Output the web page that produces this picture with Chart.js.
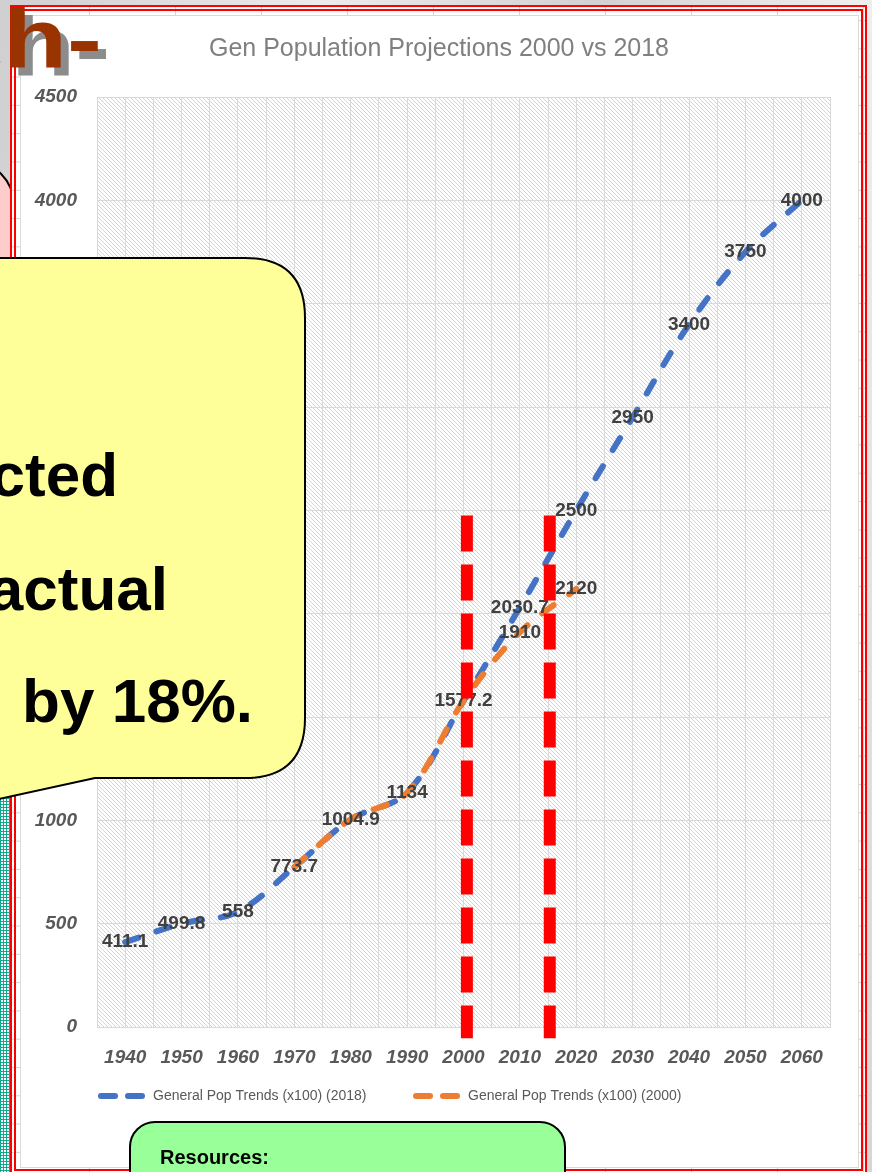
<!DOCTYPE html>
<html>
<head>
<meta charset="utf-8">
<script src="https://cdn.jsdelivr.net/npm/chart.js@4.4.1/dist/chart.umd.min.js"></script>
<style>
  html, body { margin: 0; padding: 0; }
  body {
    width: 872px; height: 1172px; position: relative; overflow: hidden;
    background: linear-gradient(100deg, #cfcfcf 0%, #ececec 30%, #d2d2d2 55%, #efefef 80%, #d6d6d6 100%);
    font-family: "Liberation Sans", Arial, sans-serif;
  }
  #pink {
    position: absolute; left: -50px; top: 162px; width: 60px; height: 160px;
    background: #ffcccc; border: 2px solid #000; border-top-right-radius: 40px;
  }
  #teal {
    position: absolute; left: 0; top: 792px; width: 10px; height: 380px;
    background-color: #ffffff;
    background-image:
      linear-gradient(to right, #10a88e 1px, transparent 1px),
      linear-gradient(to bottom, #10a88e 1px, transparent 1px);
    background-size: 3px 3px;
  }
  #frame {
    position: absolute; left: 10px; top: 5px; width: 857px; height: 1170px;
    box-sizing: border-box; border: 6px double #ff0000;
    background-color: #fff;
    background-image:
      linear-gradient(to right, #d4d4d4 1px, transparent 1px),
      linear-gradient(to bottom, #d4d4d4 1px, transparent 1px);
    background-size: 86px 28.3px;
    background-position: 73px 9px;
  }
  #chartBox {
    position: absolute; left: 20px; top: 15px; width: 839px; height: 1153px;
    box-sizing: border-box; background: #fff; border: 1px solid #d9d9d9;
  }
  #chart { position: absolute; left: 21px; top: 16px; }
  #heading {
    position: absolute; left: -63px; top: -3px; margin: 0;
    font: bold 84px/1 "Liberation Sans", Arial, sans-serif;
    color: #993300; white-space: nowrap;
    text-shadow: 6.5px 8px 0 #8c8c8c;
    transform: scaleX(1.25); transform-origin: 0 0;
  }
  #heading .c { margin-right: 6px; color: transparent; }
  #callout { position: absolute; left: 0; top: 0; }
  #resources {
    position: absolute; left: 129px; top: 1121px; width: 437px; height: 90px;
    box-sizing: border-box; background: #99ff99; border: 2px solid #000; border-radius: 26px;
  }
  #resources span {
    position: absolute; left: 29px; top: 23px;
    font: bold 20px "Liberation Sans", Arial, sans-serif; color: #000;
  }
</style>
</head>
<body>
<div id="pink"></div>
<div id="teal"></div>
<div id="frame"></div>
<div id="chartBox"></div>
<canvas id="chart" width="836" height="1150"></canvas>
<div id="heading"><span class="c">c</span>h-</div>
<svg id="callout" width="872" height="1172">
  <path d="M -20 258 L 245 258 Q 305 258 305 318 L 305 718 Q 305 778 245 778 L 95 778 L -20 803 Z"
        fill="#ffff99" stroke="#000" stroke-width="2"/>
  <g font-family="Liberation Sans, Arial, sans-serif" font-weight="bold" font-size="62" fill="#000" text-anchor="end">
    <text x="118" y="496">cted</text>
    <text x="168" y="610">actual</text>
    <text x="253" y="722">by 18%.</text>
  </g>
</svg>
<div id="resources"><span>Resources:</span></div>

<script>
// population (x100) by year, two projection runs
const years2018 = [1940, 1950, 1960, 1970, 1980, 1990, 2000, 2010, 2020, 2030, 2040, 2050, 2060];
const pop2018 = [411.1, 499.8, 558, 773.7, 1004.9, 1134, 1577.2, 2030.7, 2500, 2950, 3400, 3750, 4000];
const years2000 = [1970, 1980, 1990, 2000, 2010, 2020];
const pop2000 = [773.7, 1004.9, 1134, 1577.2, 1910, 2120];

const chartTitle = 'Gen Population Projections 2000 vs 2018';
const seriesNames = ['General Pop Trends (x100) (2018)', 'General Pop Trends (x100) (2000)'];
const seriesColors = ['#4472c4', '#ed7d31'];

const yearTicks = ['1940', '1950', '1960', '1970', '1980', '1990', '2000', '2010', '2020', '2030', '2040', '2050', '2060'];
const popTicks = [0, 500, 1000, 1500, 2000, 2500, 3000, 3500, 4000, 4500];

// red dashed markers around the 2000-2015 window
const markerYears = [2000.6, 2015.3];
const markerRange = [2475, -55];

const xMin = 1935, xMax = 2065;
const gridYears = [];
for (let yr = xMin; yr <= xMax; yr += 5) gridYears.push(yr);

const tickFont = { family: 'Liberation Sans', size: 19, style: 'italic', weight: 'bold' };

const hatch = {
  id: 'hatch',
  beforeDraw(chart) {
    const { ctx, chartArea: a } = chart;
    const tile = document.createElement('canvas');
    tile.width = 4; tile.height = 4;
    const t = tile.getContext('2d');
    t.strokeStyle = '#d4d4d4';
    t.lineWidth = 1;
    t.beginPath();
    for (const o of [-4, 0, 4]) { t.moveTo(o, 0); t.lineTo(o + 4, 4); }
    t.stroke();
    ctx.save();
    ctx.fillStyle = ctx.createPattern(tile, 'repeat');
    ctx.fillRect(a.left, a.top, a.width, a.height);
    ctx.restore();
  }
};

// title centred on the whole chart box rather than the plot
const topTitle = {
  id: 'topTitle',
  afterDraw(chart) {
    const ctx = chart.ctx;
    ctx.save();
    ctx.font = '25px "Liberation Sans"';
    ctx.fillStyle = '#808080';
    ctx.textAlign = 'center';
    ctx.textBaseline = 'middle';
    ctx.fillText(chartTitle, chart.width / 2, 33);
    ctx.restore();
  }
};

const valueLabels = {
  id: 'valueLabels',
  afterDatasetsDraw(chart) {
    const ctx = chart.ctx;
    ctx.save();
    ctx.font = 'bold 19px "Liberation Sans"';
    ctx.fillStyle = '#404040';
    ctx.textAlign = 'center';
    ctx.textBaseline = 'middle';
    chart.data.datasets.forEach((ds, i) => {
      const meta = chart.getDatasetMeta(i);
      meta.data.forEach((pt, j) => {
        const d = ds.data[j];
        if (i === 1) {
          // skip points that sit on top of the 2018 series
          const k = years2018.indexOf(d.x);
          if (k >= 0 && pop2018[k] === d.y) return;
        }
        ctx.fillText(String(d.y), pt.x, pt.y);
      });
    });
    ctx.restore();
  }
};

const bottomLegend = {
  id: 'bottomLegend',
  afterDraw(chart) {
    const { ctx, chartArea: a } = chart;
    const y = a.bottom + 69;
    const starts = [a.left + 1, a.left + 316];
    ctx.save();
    chart.data.datasets.forEach((ds, i) => {
      const x0 = starts[i];
      ctx.strokeStyle = ds.borderColor;
      ctx.lineWidth = 6;
      ctx.lineCap = 'round';
      ctx.setLineDash([14, 13]);
      ctx.beginPath();
      ctx.moveTo(x0 + 3, y);
      ctx.lineTo(x0 + 44, y);
      ctx.stroke();
      ctx.setLineDash([]);
      ctx.fillStyle = '#595959';
      ctx.font = '14px "Liberation Sans"';
      ctx.textBaseline = 'middle';
      ctx.fillText(ds.label, x0 + 55, y);
    });
    ctx.restore();
  }
};

const markers = {
  id: 'markers',
  afterDraw(chart) {
    const { ctx, scales: { x, y } } = chart;
    ctx.save();
    ctx.strokeStyle = '#ff0000';
    ctx.lineWidth = 12;
    ctx.setLineDash([36, 13]);
    markerYears.forEach(yr => {
      const px = x.getPixelForValue(yr);
      ctx.beginPath();
      ctx.moveTo(px, y.getPixelForValue(markerRange[0]));
      ctx.lineTo(px, y.getPixelForValue(markerRange[1]));
      ctx.stroke();
    });
    ctx.restore();
  }
};

const lineStyle = {
  borderWidth: 6,
  borderDash: [14, 19],
  borderCapStyle: 'round',
  pointRadius: 0,
  tension: 0.35,
  fill: false
};

new Chart(document.getElementById('chart'), {
  type: 'line',
  data: {
    datasets: [
      Object.assign({
        label: seriesNames[0],
        borderColor: seriesColors[0],
        data: years2018.map((yr, i) => ({ x: yr, y: pop2018[i] })),
        order: 2
      }, lineStyle),
      Object.assign({
        label: seriesNames[1],
        borderColor: seriesColors[1],
        data: years2000.map((yr, i) => ({ x: yr, y: pop2000[i] })),
        order: 1
      }, lineStyle)
    ]
  },
  options: {
    responsive: false,
    animation: false,
    layout: { padding: { left: 0, right: 27, top: 81, bottom: 0 } },
    plugins: {
      legend: { display: false },
      tooltip: { enabled: false },
      title: { display: false }
    },
    scales: {
      x: {
        type: 'linear',
        min: xMin,
        max: xMax,
        afterBuildTicks: (scale) => { scale.ticks = gridYears.map(v => ({ value: v })); },
        afterFit: (scale) => { scale.height = 139; },
        ticks: {
          autoSkip: false,
          maxRotation: 0,
          padding: 19,
          color: '#595959',
          font: tickFont,
          callback: (v) => yearTicks.includes(String(v)) ? String(v) : ''
        },
        grid: { color: '#d9d9d9', drawTicks: false },
        border: { color: '#d9d9d9' }
      },
      y: {
        min: popTicks[0],
        max: popTicks[popTicks.length - 1],
        afterBuildTicks: (scale) => { scale.ticks = popTicks.map(v => ({ value: v })); },
        afterFit: (scale) => { scale.width = 76; },
        ticks: {
          padding: 20,
          color: '#595959',
          font: tickFont,
          callback: (v) => String(v)
        },
        grid: { color: '#d9d9d9', drawTicks: false },
        border: { color: '#d9d9d9' }
      }
    }
  },
  plugins: [hatch, topTitle, valueLabels, bottomLegend, markers]
});
</script>
</body>
</html>
